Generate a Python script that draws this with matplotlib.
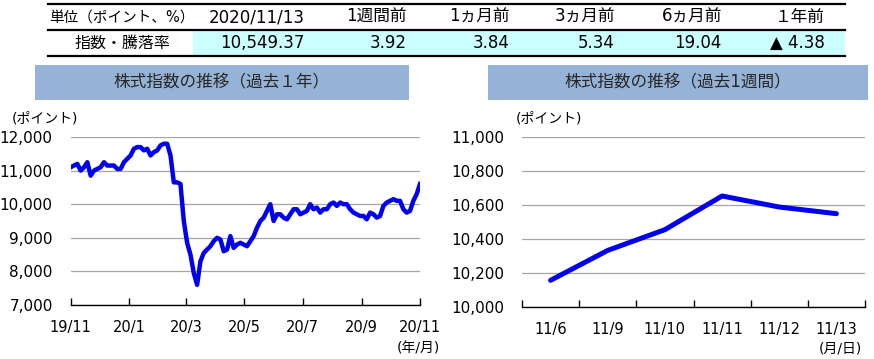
import numpy as np
import pandas as pd
import matplotlib
matplotlib.use("Agg")
import matplotlib.pyplot as plt
from matplotlib.patches import Rectangle
from matplotlib.lines import Line2D
from matplotlib.ticker import FuncFormatter

plt.rcParams['font.family'] = ['DejaVu Sans', 'Noto Sans CJK JP']

# --- table ---
table_header = ["2020/11/13", "1週間前", "1ヵ月前", "3ヵ月前", "6ヵ月前", "１年前"]
table_values = ["10,549.37", "3.92", "3.84", "5.34", "19.04", "▲ 4.38"]
unit_label = "単位（ポイント、%）"
row_label = "指数・騰落率"

# --- past 1 year (approx. every 3.5 days) ---
year_start, year_end = "2019-11-13", "2020-11-13"
year_values = [
    11100, 11150, 11200, 11000, 11100, 11250, 10850, 11000, 11050, 11100,
    11250, 11150, 11150, 11150, 11050, 11050, 11250, 11350, 11450, 11650,
    11700, 11700, 11600, 11650, 11450, 11550, 11600, 11750, 11800, 11800,
    11450, 10650, 10650, 10600, 9500, 8850, 8500, 7950, 7600, 8300,
    8550, 8650, 8750, 8900, 9000, 8950, 8600, 8650, 9050, 8700,
    8800, 8850, 8800, 8750, 8900, 9050, 9300, 9500, 9600, 9800,
    10000, 9500, 9700, 9700, 9600, 9550, 9700, 9850, 9850, 9700,
    9750, 9800, 10000, 9850, 9900, 9750, 9850, 9850, 10000, 10050,
    9950, 10050, 10000, 10000, 9850, 9750, 9700, 9650, 9650, 9550,
    9750, 9700, 9600, 9650, 9950, 10050, 10100, 10150, 10100, 10100,
    9850, 9750, 9800, 10100, 10300, 10600,
]
year_ticks = ["2019-11-13", "2020-01-13", "2020-03-13", "2020-05-13",
              "2020-07-13", "2020-09-13", "2020-11-13"]
year_tick_labels = ["19/11", "20/1", "20/3", "20/5", "20/7", "20/9", "20/11"]

# --- past 1 week ---
week_labels = ["11/6", "11/9", "11/10", "11/11", "11/12", "11/13"]
week_values = [10157, 10333, 10455, 10653, 10588, 10549]

W, H = 874, 359
fig = plt.figure(figsize=(W / 100, H / 100), dpi=100)


def fx(px):
    return px / W


def fy(py):
    return 1 - py / H


# table drawing
fig.patches.append(Rectangle((fx(193), fy(55)), fx(845) - fx(193), fy(30) - fy(55),
                             transform=fig.transFigure, facecolor='#CCFFFF',
                             edgecolor='none', zorder=0))
for yy in [3.5, 29.5, 55.5]:
    fig.lines.append(Line2D([fx(48), fx(845)], [fy(yy), fy(yy)],
                            transform=fig.transFigure, color='black', lw=1.6))
fig.text(fx(49), fy(17), unit_label, fontsize=10.5, ha='left', va='center')
fig.text(fx(122), fy(43), row_label, fontsize=11.5, ha='center', va='center')
col_right = [305, 407, 510, 615, 722, 825]
for xr, h, v in zip(col_right, table_header, table_values):
    fig.text(fx(xr), fy(17), h, fontsize=12, ha='right', va='center')
    fig.text(fx(xr), fy(43), v, fontsize=12, ha='right', va='center')

# banners
banner_color = '#95B3D7'
for (x0, x1), title in [((35, 409), "株式指数の推移（過去１年）"),
                        ((488, 868), "株式指数の推移（過去1週間）")]:
    fig.patches.append(Rectangle((fx(x0), fy(100)), fx(x1) - fx(x0), fy(65) - fy(100),
                                 transform=fig.transFigure, facecolor=banner_color,
                                 edgecolor='none'))
    fig.text(fx((x0 + x1) / 2), fy(82.5), title, fontsize=12, ha='center',
             va='center', color='#262626')

comma = FuncFormatter(lambda v, p: f"{int(v):,}")
line_color = '#0000EE'


def style(ax):
    ax.grid(axis='y', color='#A6A6A6', lw=0.9)
    ax.set_axisbelow(True)
    for s in ['top', 'right', 'left']:
        ax.spines[s].set_visible(False)
    ax.spines['bottom'].set_color('black')
    ax.spines['bottom'].set_linewidth(1.0)
    ax.tick_params(axis='y', length=0, pad=13, labelsize=11)
    ax.tick_params(axis='x', which='major', direction='in', length=5, width=1,
                   pad=11, labelsize=10.5)
    ax.yaxis.set_major_formatter(comma)
    ax.patch.set_alpha(0)


# left chart
ax1 = fig.add_axes([fx(70.7), fy(305), fx(420) - fx(70.7), fy(137) - fy(305)])
dates = pd.date_range(year_start, year_end, periods=len(year_values))
ax1.plot(dates, year_values, color=line_color, lw=3.2, solid_joinstyle='round')
ax1.set_ylim(7000, 12000)
ax1.set_yticks(np.arange(7000, 12001, 1000))
ax1.set_xlim(pd.Timestamp(year_start), pd.Timestamp(year_end))
ax1.set_xticks(pd.to_datetime(year_ticks))
ax1.set_xticklabels(year_tick_labels)
style(ax1)
fig.text(fx(12), fy(119), "(ポイント)", fontsize=10, ha='left', va='center')
fig.text(fx(397), fy(348), "(年/月)", fontsize=10, ha='left', va='center')

# right chart
ax2 = fig.add_axes([fx(522), fy(307), fx(865) - fx(522), fy(137) - fy(307)])
xs = np.arange(len(week_labels))
ax2.plot(xs, week_values, color=line_color, lw=3.6, solid_capstyle='round')
ax2.set_ylim(10000, 11000)
ax2.set_yticks(np.arange(10000, 11001, 200))
ax2.set_xlim(-0.5, len(week_labels) - 0.5)
ax2.set_xticks(np.arange(-0.5, len(week_labels)))
ax2.set_xticklabels([])
ax2.set_xticks(xs, minor=True)
ax2.set_xticklabels(week_labels, minor=True)
style(ax2)
ax2.tick_params(axis='x', which='minor', length=0, pad=11, labelsize=10.5)
fig.text(fx(516), fy(119), "(ポイント)", fontsize=10, ha='left', va='center')
fig.text(fx(819), fy(348), "(月/日)", fontsize=10, ha='left', va='center')

fig.savefig("out.png", dpi=100)
